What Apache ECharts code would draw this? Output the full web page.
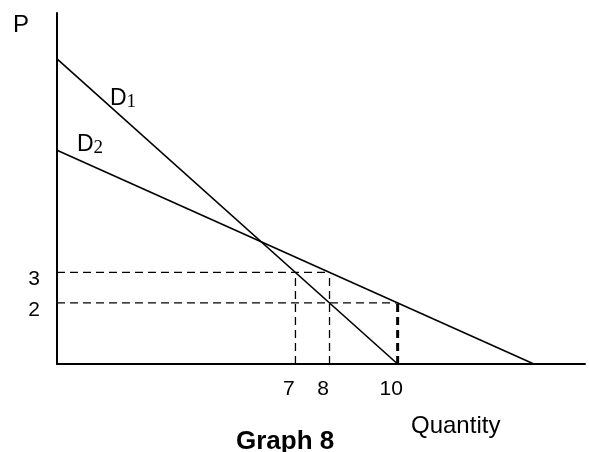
<!DOCTYPE html>
<html>
<head>
<meta charset="utf-8">
<style>
  html, body { margin: 0; padding: 0; background: #fff; }
  #chart { width: 589px; height: 452px; }
</style>
<script src="https://cdn.jsdelivr.net/npm/echarts@6/dist/echarts.min.js"></script>
</head>
<body>
<div id="chart"></div>
<script>
// Demand curves as end points [quantity, price]
const demand1 = [[0, 10], [10, 0]];
const demand2 = [[0, 7], [14, 0]];

// Labelled ticks
const priceTicks = [2, 3];
const quantityTicks = [7, 8, 10];

// Dashed guide lines: [quantity, price] pairs
const guidePrice3 = [[0, 3], [8, 3]];
const guidePrice2 = [[0, 2], [10, 2]];
const guideQty7 = [[7, 0], [7, 3]];
const guideQty8 = [[8, 0], [8, 3]];
const guideQty10 = [[10, 0], [10, 2]];

const SANS = '"Liberation Sans", Arial, sans-serif';
const SERIF = '"Liberation Serif", "Times New Roman", serif';

function guide(data, width) {
  return {
    type: 'line', data: data, symbol: 'none', silent: true,
    lineStyle: { color: '#000', width: width, type: [8, 5] },
    z: 1
  };
}
function demand(data) {
  return {
    type: 'line', data: data, symbol: 'none', silent: true,
    lineStyle: { color: '#000', width: 1.6 },
    z: 3
  };
}
function curveLabel(text, sub, left, top) {
  return {
    type: 'text', left: left, top: top,
    style: {
      text: '{d|' + text + '}{s|' + sub + '}',
      rich: {
        d: { fontFamily: SANS, fontSize: 23, fill: '#000' },
        s: { fontFamily: SERIF, fontSize: 19, fill: '#000', padding: [8, 0, 0, 0] }
      }
    }
  };
}

const chart = echarts.init(document.getElementById('chart'), null, { renderer: 'canvas' });
chart.setOption({
  backgroundColor: '#fff',
  animation: false,
  title: {
    text: 'Graph 8',
    left: 236, top: 429, padding: 0,
    textStyle: { fontFamily: SANS, fontWeight: 'bold', fontSize: 26, color: '#000' }
  },
  grid: { left: 57, right: 4, top: 13, bottom: 88 },
  xAxis: {
    type: 'value', min: 0, max: 15.5, interval: 1,
    axisLine: { lineStyle: { color: '#000', width: 2 } },
    axisTick: { show: false },
    splitLine: { show: false },
    axisLabel: {
      showMaxLabel: false,
      margin: 15,
      fontFamily: SANS, fontSize: 21, color: '#000',
      padding: [0, 13, 0, 0],
      formatter: v => quantityTicks.includes(v) ? String(v) : ''
    }
  },
  yAxis: {
    type: 'value', min: 0, max: 11.5, interval: 1,
    axisLine: { lineStyle: { color: '#000', width: 2 } },
    axisTick: { show: false },
    splitLine: { show: false },
    axisLabel: {
      showMaxLabel: false,
      margin: 17,
      fontFamily: SANS, fontSize: 21, color: '#000',
      verticalAlign: 'top', lineHeight: 14,
      formatter: v => priceTicks.includes(v) ? String(v) : ''
    }
  },
  graphic: [
    { type: 'text', left: 13, top: 13,
      style: { text: 'P', fontFamily: SANS, fontSize: 24, fill: '#000' } },
    { type: 'text', left: 411, top: 414,
      style: { text: 'Quantity', fontFamily: SANS, fontSize: 24, fill: '#000' } },
    curveLabel('D', '1', 110, 87),
    curveLabel('D', '2', 77, 133)
  ],
  series: [
    guide(guidePrice3, 1.3),
    guide(guidePrice2, 1.3),
    guide(guideQty7, 1.3),
    guide(guideQty8, 1.3),
    guide(guideQty10, 3),
    demand(demand1),
    demand(demand2)
  ]
});
</script>
</body>
</html>
